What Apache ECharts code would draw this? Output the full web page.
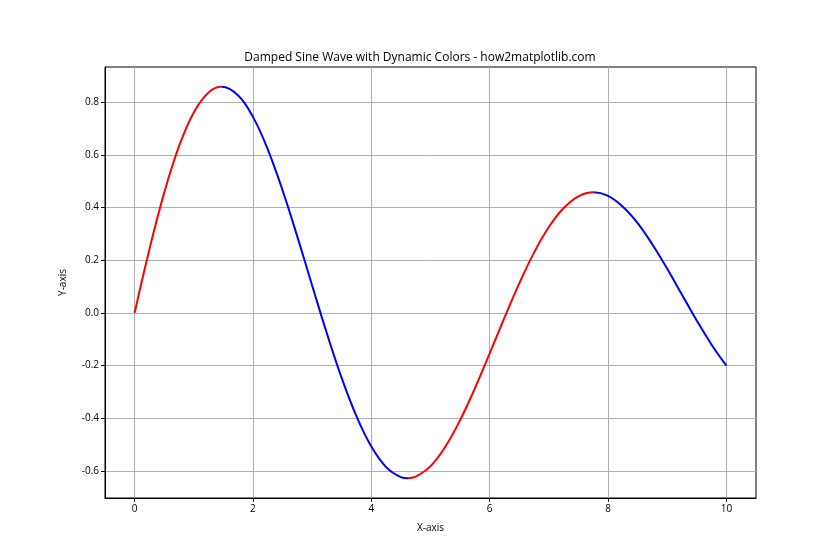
<!DOCTYPE html>
<html><head><meta charset="utf-8">
<script src="https://cdn.jsdelivr.net/npm/echarts@6/dist/echarts.min.js"></script>
<style>html,body{margin:0;padding:0;background:#fff}#c{width:840px;height:560px}</style>
</head><body><div id="c"></div>
<script>
var xValues = [0,0.25,0.5,0.75,1,1.25,1.4711,1.75,2,2.25,2.5,2.75,3,3.25,3.5,3.75,4,4.25,4.5,4.6127,4.75,5,5.25,5.5,5.75,6,6.25,6.5,6.75,7,7.25,7.5,7.7543,8,8.25,8.5,8.75,9,9.25,9.5,9.75,10];
var yValues = [0,0.2413,0.4560,0.6324,0.7614,0.8375,0.8589,0.8260,0.7445,0.6213,0.4661,0.2899,0.1045,-0.0782,-0.2472,-0.3928,-0.5073,-0.5851,-0.6233,-0.6274,-0.6215,-0.5816,-0.5081,-0.4071,-0.2860,-0.1534,-0.0178,0.1123,0.2291,0.3263,0.3984,0.4431,0.4582,0.4446,0.4035,0.3413,0.2602,0.1676,0.0691,-0.0291,-0.1205,-0.2001];
var turnPoints = [1.4711, 4.6127, 7.7543];
var xTicks = [0,2,4,6,8,10];
var yTicks = [-0.6,-0.4,-0.2,0.0,0.2,0.4,0.6,0.8];
var title = 'Damped Sine Wave with Dynamic Colors - how2matplotlib.com';

var data = xValues.map(function(x,i){return [x,yValues[i]];});
var font = '"Open Sans", "Noto Sans", sans-serif';
var chart = echarts.init(document.getElementById('c'));
chart.setOption({
  animation:false,
  title:{text:title,left:'center',top:47,textStyle:{fontFamily:font,fontSize:12,fontWeight:'normal',color:'#000'}},
  grid:{left:105,right:84,top:67,bottom:62,containLabel:false,show:true,borderColor:'#000',borderWidth:1,backgroundColor:'transparent'},
  xAxis:{type:'value',min:-0.5,max:10.5,name:'X-axis',nameLocation:'middle',nameGap:25,
    nameTextStyle:{fontFamily:font,fontSize:10,color:'#000'},
    axisLine:{show:true,onZero:false,lineStyle:{color:'#000',width:1}},
    axisTick:{show:true,length:4,customValues:xTicks,lineStyle:{color:'#000'}},
    axisLabel:{customValues:xTicks,fontFamily:font,fontSize:10,color:'#000',margin:6,formatter:function(v){return String(v);}},
    splitLine:{show:true,lineStyle:{color:'#b0b0b0',width:1}}},
  yAxis:{type:'value',min:-0.7025,max:0.9339,name:'Y-axis',nameLocation:'middle',nameGap:37,nameRotate:90,
    nameTextStyle:{fontFamily:font,fontSize:10,color:'#000'},
    axisLine:{show:true,onZero:false,lineStyle:{color:'#000',width:1}},
    axisTick:{show:true,length:4,customValues:yTicks,lineStyle:{color:'#000'}},
    axisLabel:{customValues:yTicks,fontFamily:font,fontSize:10,color:'#000',margin:6,formatter:function(v){return v.toFixed(1);}},
    splitLine:{show:true,lineStyle:{color:'#b0b0b0',width:1}}},
  visualMap:{show:false,type:'piecewise',dimension:0,seriesIndex:0,
    pieces:[{lte:turnPoints[0],color:'#ff0000'},{gt:turnPoints[0],lte:turnPoints[1],color:'#0000ff'},{gt:turnPoints[1],lte:turnPoints[2],color:'#ff0000'},{gt:turnPoints[2],color:'#0000ff'}]},
  series:[{type:'line',data:data,smooth:0.4,showSymbol:false,lineStyle:{width:2}}]
});
</script></body></html>
